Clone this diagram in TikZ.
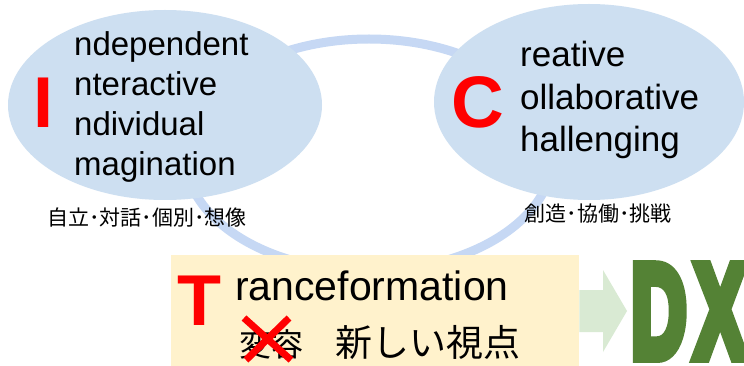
\documentclass[tikz,border=0pt]{standalone}
\usepackage{graphicx}
\usepackage{fontspec}
\setmainfont{Liberation Sans}
\newfontfamily\cjk{Noto Sans CJK JP}
\newfontfamily\dxfont[FakeBold=9]{Liberation Sans Bold}
\usetikzlibrary{shapes.geometric}
\definecolor{ellfill}{HTML}{CDDFF1}
\definecolor{ringcol}{HTML}{C6D8F4}
\definecolor{boxcol}{HTML}{FFF2CC}
\definecolor{arrowcol}{HTML}{D9EAD3}
\definecolor{dxgreen}{HTML}{548235}
\definecolor{redc}{HTML}{FF0000}
\tikzset{
  bubble/.style={ellipse, fill=ellfill, inner sep=0},
  lefttxt/.style={anchor=base west, inner sep=0, font=\fontsize{33}{33}\selectfont},
  righttxt/.style={anchor=base west, inner sep=0, font=\fontsize{35}{35}\selectfont},
  bigred/.style={anchor=base west, inner sep=0, text=redc, font=\fontsize{72}{72}\selectfont\bfseries},
  caption/.style={inner sep=0, font=\cjk\fontsize{21}{21}\selectfont},
  ttxt/.style={anchor=base west, inner sep=0, font=\fontsize{41}{41}\selectfont},
}
\begin{document}
\begin{tikzpicture}[x=1pt,y=-1pt]
\useasboundingbox (0,0) rectangle (744,366);
\fill[white] (0,0) rectangle (744,366);
% ring
\draw[ringcol, line width=9pt] (369,155) ellipse [x radius=184, y radius=116];
% bubbles
\node[bubble, minimum width=314, minimum height=190] (ellI) at (165,105) {};
\node[bubble, minimum width=310, minimum height=196] (ellC) at (589,102) {};
% I bubble text
\node[bigred] (bigI) at (33,128) {I};
\node[lefttxt] (i1) at (74,56) {ndependent};
\node[lefttxt] (i2) at (74,96) {nteractive};
\node[lefttxt] (i3) at (74,136) {ndividual};
\node[lefttxt] (i4) at (74,176) {magination};
\node[caption] (capI) at (147,218) {自立･対話･個別･想像};
% C bubble text
\node[bigred, font=\fontsize{73}{73}\selectfont\bfseries] (bigC) at (451,128) {C};
\node[righttxt] (c1) at (520,67) {reative};
\node[righttxt] (c2) at (520,110) {ollaborative};
\node[righttxt] (c3) at (520,152) {hallenging};
\node[caption] (capC) at (598,214) {創造･協働･挑戦};
% T box
\node[fill=boxcol, minimum width=408, minimum height=111, inner sep=0, anchor=north west] (tbox) at (171,255) {};
\node[bigred] (bigT) at (177,325) {T};
\node[ttxt] (t1) at (235,300) {ranceformation};
\node[anchor=base west, inner sep=0, font=\cjk\fontsize{32}{32}\selectfont] (t2a) at (239,356) {変容};
\node[anchor=base west, inner sep=0, font=\cjk\fontsize{37}{37}\selectfont] (t2b) at (335,356) {新しい視点};
\draw[redc, line width=7pt] (244,318) -- (291,360) (289,318) -- (246,360);
% arrow
\fill[arrowcol] (tbox.east |- 0,290) -- (603,290) -- (603,270) -- (627,311) -- (603,352) -- (603,332) -- (tbox.east |- 0,332) -- cycle;
% DX
\node[anchor=base west, inner sep=0, text=dxgreen] (dx) at (631,357) {\scalebox{0.58}[1]{\dxfont\fontsize{132}{132}\selectfont D\kern14pt X}};
\end{tikzpicture}
\end{document}
